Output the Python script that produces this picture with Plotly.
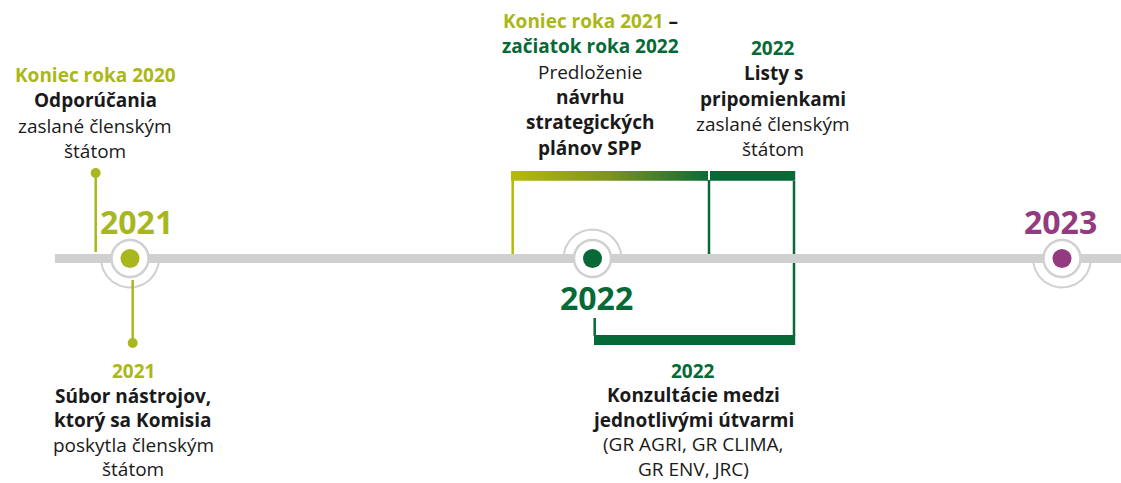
import numpy as np
import plotly.graph_objects as go

# ---------------- data ----------------
years = [2021, 2022, 2023]
year_colors = ["#a9b71f", "#076a36", "#933a80"]
arc_side = ["down", "up", "down"]

OLIVE = "#aab817"
GREEN = "#076a36"
BLACK = "#1a1a1a"

# text blocks: (text, colour, bold)
block_top_left = [
    ("Koniec roka 2020", OLIVE, True),
    ("Odporúčania", BLACK, True),
    ("zaslané členským", BLACK, False),
    ("štátom", BLACK, False),
]
block_top_mid = [
    ("<span style='color:%s'>Koniec roka 2021</span> –" % OLIVE, BLACK, True),
    ("začiatok roka 2022", GREEN, True),
    ("Predloženie", BLACK, False),
    ("návrhu", BLACK, True),
    ("strategických", BLACK, True),
    ("plánov SPP", BLACK, True),
]
block_top_right = [
    ("2022", GREEN, True),
    ("Listy s", BLACK, True),
    ("pripomienkami", BLACK, True),
    ("zaslané členským", BLACK, False),
    ("štátom", BLACK, False),
]
block_bot_left = [
    ("2021", OLIVE, True),
    ("Súbor nástrojov,", BLACK, True),
    ("ktorý sa Komisia", BLACK, True),
    ("poskytla členským", BLACK, False),
    ("štátom", BLACK, False),
]
block_bot_right = [
    ("2022", GREEN, True),
    ("Konzultácie medzi", BLACK, True),
    ("jednotlivými útvarmi", BLACK, True),
    ("(GR AGRI, GR CLIMA,", BLACK, False),
    ("GR ENV, JRC)", BLACK, False),
]

# ---------------- layout constants ----------------
W, H = 1121, 483
FONT = "Open Sans"
TXT = 19
LINE_H = 25.3
BAR_Y0, BAR_Y1 = 254, 263
BAR_CY = (BAR_Y0 + BAR_Y1) / 2
MS_X = [130, 592.5, 1062]
YEAR_LABEL_POS = [(136, 221), (596, 297), (1060, 221)]
GRAY = "#d0d0d0"

fig = go.Figure()
shapes = []
annotations = []

def line(x0, y0, x1, y1, color, width=2.5, layer="above"):
    shapes.append(dict(type="line", x0=x0, y0=y0, x1=x1, y1=y1, xref="x", yref="y",
                       line=dict(color=color, width=width), layer=layer))

def rect(x0, y0, x1, y1, color, layer="above"):
    shapes.append(dict(type="rect", x0=x0, y0=y0, x1=x1, y1=y1, xref="x", yref="y",
                       fillcolor=color, line=dict(width=0), layer=layer))

def circle(cx, cy, r, fill, stroke=None, width=0, layer="above"):
    shapes.append(dict(type="circle", x0=cx - r, y0=cy - r, x1=cx + r, y1=cy + r, xref="x", yref="y",
                       fillcolor=fill, line=dict(color=stroke or fill, width=width), layer=layer))

# bracket vertical behind the bar
line(794, 181, 794, 336, GREEN, 2.5, layer="below")
# main bar
rect(55, BAR_Y0, W + 5, BAR_Y1, GRAY, layer="below")

# outer arcs
t = np.linspace(0, np.pi, 80)
for cx, side in zip(MS_X, arc_side):
    r = 29
    sgn = 1 if side == "down" else -1
    fig.add_trace(go.Scatter(x=cx + r * np.cos(t), y=BAR_CY + sgn * r * np.sin(t), mode="lines",
                             line=dict(color=GRAY, width=2), hoverinfo="skip", showlegend=False))

# rings and dots
for cx, col in zip(MS_X, year_colors):
    circle(cx, BAR_CY, 18.5, "white", GRAY, 2.5)
    circle(cx, BAR_CY, 9.5, col)

# year labels
for (lx, ly), yr, col in zip(YEAR_LABEL_POS, years, year_colors):
    annotations.append(dict(x=lx, y=ly, xref="x", yref="y", text="<b>%d</b>" % yr, showarrow=False,
                            xanchor="center", yanchor="middle",
                            font=dict(family=FONT, size=32, color=col)))

# stems for 2021
OL_STEM = "#a9b71f"
line(95.7, 173, 95.7, 252, OL_STEM, 2.5)
circle(95.7, 173, 5, OL_STEM)
line(132.7, 280, 132.7, 343, OL_STEM, 2.5)
circle(132.7, 343, 5, OL_STEM)

# top brackets
fig.add_trace(go.Scatter(x=[511, 708, 708, 511, 511], y=[171, 171, 180.7, 180.7, 171], mode="lines",
                         fill="toself", line=dict(width=0),
                         fillgradient=dict(type="horizontal",
                                           colorscale=[[0, "#b7bb06"], [0.5, "#7d9320"], [1, "#0d6a35"]]),
                         hoverinfo="skip", showlegend=False))
rect(710, 171, 795.2, 180.7, GREEN)
line(512.7, 180, 512.7, 254, "#b7bb06", 2.5, layer="below")
line(709, 180, 709, 254, GREEN, 2.5, layer="below")

# bottom bracket
rect(594, 335, 795.2, 345, GREEN)
line(594.7, 318, 594.7, 336, GREEN, 2.5)

# text blocks
def block(lines, cx, y0, lh=LINE_H):
    for i, (txt, col, bold) in enumerate(lines):
        s = "<b>%s</b>" % txt if bold else txt
        annotations.append(dict(x=cx, y=y0 + i * lh, xref="x", yref="y", text=s, showarrow=False,
                                xanchor="center", yanchor="middle", borderpad=0,
                                font=dict(family=FONT, size=TXT, color=col)))

block(block_top_left, 95, 75)
block(block_top_mid, 590, 21)
block(block_top_right, 773, 48)
block(block_bot_left, 133, 371, 24.6)
block(block_bot_right, 693, 370.5, 24.6)

fig.update_layout(
    width=W, height=H, margin=dict(l=0, r=0, t=0, b=0),
    paper_bgcolor="white", plot_bgcolor="white",
    xaxis=dict(range=[0, W], visible=False, fixedrange=True),
    yaxis=dict(range=[H, 0], visible=False, fixedrange=True),
    shapes=shapes, annotations=annotations, showlegend=False,
    hovermode=False,
)
fig.write_html("out.html", config={"displayModeBar": False, "staticPlot": True},
               post_script="document.body.style.margin='0';document.body.style.overflow='hidden';")
